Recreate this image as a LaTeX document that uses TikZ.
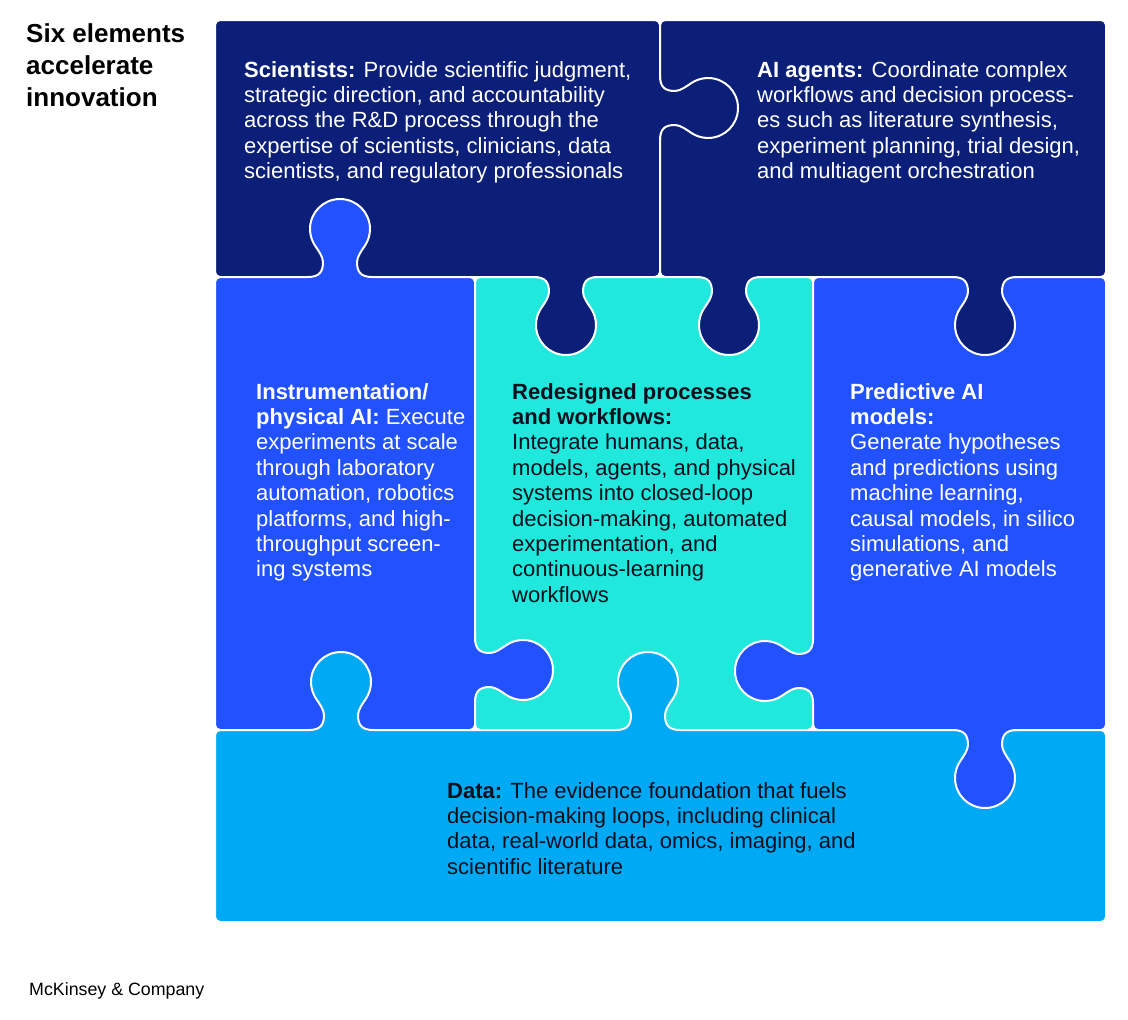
\documentclass[tikz,border=0pt]{standalone}
\usepackage{fontspec}
\setmainfont{Liberation Sans}
\usepackage{xcolor}
\definecolor{navy}{HTML}{0B1F78}
\definecolor{electric}{HTML}{2251FF}
\definecolor{aqua}{HTML}{21E8DC}
\definecolor{sky}{HTML}{00A9F4}
\definecolor{ink}{HTML}{0A0F1E}

\tikzset{
  piece/.style={draw=white, line width=2pt, rounded corners=5pt},
  seam/.style={draw=white, line width=2pt},
  blurb/.style={anchor=north west, inner sep=0pt, align=left, font=\fontsize{22}{25.4}\selectfont},
  knobpath/.style={insert path={(-32,0) .. controls (-20,0) and (-17,6) .. (-17,15)
      .. controls (-17,20) and (-21.7,26.7) .. (-24.6,30.8)
      .. controls (-28.1,35.9) and (-30,41.8) .. (-30,48)
      .. controls (-30,64.6) and (-16.6,78) .. (0,78)
      .. controls (16.6,78) and (30,64.6) .. (30,48)
      .. controls (30,41.8) and (28.1,35.9) .. (24.6,30.8)
      .. controls (21.7,26.7) and (17,20) .. (17,15)
      .. controls (17,6) and (20,0) .. (32,0)}}
}

% knob: base x, base y, rotation (0 down, 180 up, 90 right, -90 left), colour
\newcommand{\puzzleknob}[4]{%
  \begin{scope}[shift={(#1,#2)}, rotate=#3]
    \fill[#4] [knobpath] -- (32,-3) -- (-32,-3) -- cycle;
    \draw[seam] [knobpath];
  \end{scope}}

\begin{document}
\begin{tikzpicture}[x=1pt, y=-1pt]
    \useasboundingbox (0,0) rectangle (1128,1020);

    % Pieces
    \fill[navy, piece] (215,20) rectangle (660,277);
    \fill[navy, piece] (660,20) rectangle (1106,277);
    \fill[electric, piece] (215,277) rectangle (475,730);
    \fill[aqua, piece] (475,277) rectangle (813,730);
    \fill[electric, piece] (813,277) rectangle (1106,730);
    \fill[sky, piece] (215,730) rectangle (1106,922);

    % Knobs
    \puzzleknob{660}{108}{90}{navy}
    \puzzleknob{340}{277}{180}{electric}
    \puzzleknob{566}{277}{0}{navy}
    \puzzleknob{729}{277}{0}{navy}
    \puzzleknob{985}{277}{0}{navy}
    \puzzleknob{475}{670}{90}{electric}
    \puzzleknob{813}{671}{-90}{electric}
    \puzzleknob{341}{730}{180}{sky}
    \puzzleknob{648}{730}{180}{sky}
    \puzzleknob{985}{730}{0}{electric}

    % Texts
    \node[anchor=north west, inner sep=0pt, align=left, font=\fontsize{26}{32}\selectfont\bfseries] (title) at (26,23) {Six elements\\accelerate\\innovation};
    \node[blurb, white] (scientists) at (244,61) {\textbf{Scientists:} Provide scientific judgment,\\strategic direction, and accountability\\across the R\&D process through the\\expertise of scientists, clinicians, data\\scientists, and regulatory professionals};
    \node[blurb, white] (agents) at (757,61) {\textbf{AI agents:} Coordinate complex\\workflows and decision process-\\es such as literature synthesis,\\experiment planning, trial design,\\and multiagent orchestration};
    \node[blurb, white] (instruments) at (256,383) {\textbf{Instrumentation/}\\\textbf{physical AI:} Execute\\experiments at scale\\through laboratory\\automation, robotics\\platforms, and high-\\throughput screen-\\ing systems};
    \node[blurb, ink] (workflows) at (512,383) {\textbf{Redesigned processes}\\\textbf{and workflows:}\\Integrate humans, data,\\models, agents, and physical\\systems into closed-loop\\decision-making, automated\\experimentation, and\\continuous-learning\\workflows};
    \node[blurb, white] (models) at (850,383) {\textbf{Predictive AI}\\\textbf{models:}\\Generate hypotheses\\and predictions using\\machine learning,\\causal models, in silico\\simulations, and\\generative AI models};
    \node[blurb, ink] (data) at (447,782) {\textbf{Data:} The evidence foundation that fuels\\decision-making loops, including clinical\\data, real-world data, omics, imaging, and\\scientific literature};
    \node[anchor=west, inner sep=0pt, font=\fontsize{17.8}{20}\selectfont] (brand) at (29,991) {McKinsey \& Company};
\end{tikzpicture}
\end{document}
